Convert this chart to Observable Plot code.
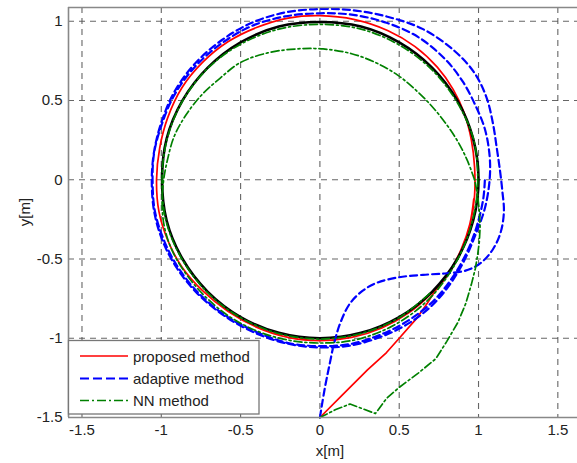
<!DOCTYPE html>
<html>
<head>
<meta charset="utf-8">
<script src="https://cdn.jsdelivr.net/npm/d3@7"></script>
<script src="https://cdn.jsdelivr.net/npm/@observablehq/plot@0.6"></script>
<style>
  html, body { margin: 0; padding: 0; background: #fff; }
  svg { display: block; }
</style>
</head>
<body>
<div id="chart"></div>
<script>
// ---- axes / ticks ----
const xDomain = [-1.585, 1.624];
const yDomain = [-1.5, 1.0865];
const xTicks = [-1.5, -1, -0.5, 0, 0.5, 1, 1.5];
const yTicks = [-1.5, -1, -0.5, 0, 0.5, 1];
const xLabel = "x[m]";
const yLabel = "y[m]";
const seriesNames = ["proposed method", "adaptive method", "NN method"];

// ---- desired (reference) circle ----
const reference = [
  [1,0],[0.966,0.259],[0.866,0.5],[0.707,0.707],[0.5,0.866],[0.259,0.966],
  [0,0.995],[-0.259,0.966],[-0.5,0.866],[-0.707,0.707],[-0.866,0.5],[-0.966,0.259],
  [-0.995,0],[-0.966,-0.259],[-0.866,-0.5],[-0.707,-0.707],[-0.5,-0.866],[-0.259,-0.966],
  [0,-1],[0.259,-0.966],[0.5,-0.866],[0.707,-0.707],[0.866,-0.5],[0.966,-0.259]
];

// ---- proposed method ----
const proposedStart = [
  [0,-1.5],[0.15,-1.35],[0.3,-1.2],[0.42,-1.09],[0.5,-1.0],[0.61,-0.875],[0.68,-0.775],[0.72,-0.71]
];
const proposedOrbit = [
  [0.72,-0.71],[0.82,-0.58],[0.9,-0.43],[0.95,-0.27],[0.975,-0.1],[0.975,0.08],[0.955,0.25],
  [0.91,0.42],[0.84,0.57],[0.74,0.71],[0.6,0.84],[0.43,0.94],[0.22,1.01],[0,1.035],
  [-0.2,1.02],[-0.4,0.96],[-0.58,0.87],[-0.74,0.74],[-0.87,0.58],[-0.96,0.39],[-1.01,0.2],
  [-1.03,0],[-1.015,-0.2],[-0.96,-0.38],[-0.87,-0.55],[-0.74,-0.7],[-0.58,-0.83],[-0.4,-0.93],
  [-0.2,-0.995],[0,-1.015],[0.2,-0.995],[0.39,-0.935],[0.56,-0.84],[0.7,-0.72],[0.81,-0.59],
  [0.89,-0.44],[0.945,-0.28],[0.97,-0.12]
];

// ---- adaptive method ----
const adaptivePath = [
  [0,-1.5],[0.03,-1.32],[0.06,-1.17],[0.09,-1.03],[0.13,-0.9],[0.19,-0.78],[0.27,-0.7],
  [0.36,-0.65],[0.5,-0.615],[0.65,-0.6],[0.8,-0.59],[0.93,-0.57],[1.02,-0.52],[1.09,-0.44],
  [1.14,-0.33],[1.16,-0.2],[1.15,-0.07],[1.135,0.06],[1.115,0.2],[1.09,0.36],[1.05,0.52],
  [0.97,0.68],[0.84,0.82],[0.65,0.95],[0.42,1.03],[0.2,1.07],[0,1.077],[-0.22,1.055],
  [-0.43,0.99],[-0.62,0.88],[-0.79,0.73],[-0.92,0.55],[-1.0,0.36],[-1.045,0.18],[-1.06,0],
  [-1.045,-0.2],[-0.99,-0.39],[-0.9,-0.56],[-0.77,-0.72],[-0.6,-0.86],[-0.4,-0.97],
  [-0.2,-1.035],[0,-1.058],[0.2,-1.045],[0.4,-0.985],[0.57,-0.9],[0.71,-0.79],[0.82,-0.66],
  [0.91,-0.51],[0.98,-0.35],[1.04,-0.18],[1.07,0],[1.07,0.15],[1.04,0.32],[0.98,0.47],
  [0.9,0.62],[0.79,0.76],[0.62,0.9],[0.42,0.99],[0.21,1.04],[0,1.05],[-0.22,1.03],
  [-0.43,0.97],[-0.62,0.86],[-0.79,0.71],[-0.92,0.53],[-1.0,0.34],[-1.045,0.17],[-1.055,0],
  [-1.04,-0.2],[-0.98,-0.39],[-0.89,-0.56],[-0.76,-0.72],[-0.59,-0.86],[-0.4,-0.96],
  [-0.2,-1.03],[0,-1.05],[0.2,-1.035],[0.4,-0.97],[0.57,-0.88],[0.72,-0.76],[0.84,-0.61],
  [0.93,-0.45],[0.99,-0.29],[1.03,-0.12],[1.04,0]
];

// ---- NN method ----
const nnStart = [
  [0,-1.5],[0.1,-1.45],[0.19,-1.415],[0.27,-1.445],[0.35,-1.475],[0.42,-1.38],[0.5,-1.31],
  [0.62,-1.22],[0.73,-1.13],[0.8,-1.02],[0.87,-0.9],[0.92,-0.78],[0.955,-0.66],[0.98,-0.56],
  [0.995,-0.47],[1.005,-0.39],[1.01,-0.3],[1.005,-0.2],[0.995,-0.1],[0.975,0]
];
const nnOrbit = [
  [0.975,0],[0.93,0.12],[0.87,0.24],[0.79,0.36],[0.7,0.47],[0.6,0.57],[0.49,0.66],[0.36,0.735],
  [0.2,0.795],[0.02,0.825],[-0.15,0.825],[-0.33,0.8],[-0.5,0.74],[-0.63,0.64],[-0.75,0.53],
  [-0.85,0.4],[-0.92,0.27],[-0.96,0.13],[-0.985,0],[-0.995,-0.15],[-0.98,-0.3],[-0.93,-0.45],
  [-0.84,-0.6],[-0.72,-0.74],[-0.56,-0.87],[-0.37,-0.965],[-0.18,-1.015],[0,-1.03],
  [0.2,-1.015],[0.39,-0.955],[0.56,-0.86],[0.71,-0.73],[0.83,-0.57],[0.92,-0.39],[0.975,-0.2],
  [0.995,0],[0.97,0.25],[0.87,0.48],[0.71,0.69],[0.5,0.85],[0.26,0.95],[0,0.98],[-0.26,0.95],
  [-0.5,0.855],[-0.71,0.7],[-0.87,0.49],[-0.965,0.25],[-0.995,0],[-0.97,-0.26],[-0.87,-0.5],
  [-0.71,-0.71],[-0.5,-0.87],[-0.26,-0.97],[0,-1.005],[0.26,-0.97],[0.5,-0.87],[0.7,-0.71]
];

// ---- styles ----
const colors = ["#ff0000", "#0000ff", "#008000"];
const dashes = [null, "7,4", "8,3,2,3"];
const widths = [1.7, 2.2, 1.7];
const font = "'Liberation Sans', Arial, Helvetica, sans-serif";

const W = 577, H = 463;
const mL = 68, mT = 7, mB = 46, mR = 0;

const lineOpts = (i, curve) => ({
  x: d => d[0], y: d => d[1], stroke: colors[i], strokeWidth: widths[i],
  strokeDasharray: dashes[i], curve
});

const svg = Plot.plot({
  width: W, height: H,
  marginLeft: mL, marginTop: mT, marginBottom: mB, marginRight: mR,
  style: { fontFamily: font, fontSize: "15px", color: "#222", background: "#fff", overflow: "visible" },
  x: { domain: xDomain, label: null },
  y: { domain: yDomain, label: null },
  marks: [
    Plot.gridX(xTicks, { stroke: "#555", strokeOpacity: 0.9, strokeDasharray: "6,5", strokeWidth: 1.1 }),
    Plot.gridY(yTicks, { stroke: "#555", strokeOpacity: 0.9, strokeDasharray: "6,5", strokeWidth: 1.1 }),
    Plot.axisX({ ticks: xTicks, tickSize: 0, tickPadding: 7, tickFormat: d => String(d), label: null }),
    Plot.axisY({ ticks: yTicks, tickSize: 0, tickPadding: 6, tickFormat: d => String(d), label: null }),
    Plot.line(proposedStart, lineOpts(0, "linear")),
    Plot.line(proposedOrbit, lineOpts(0, "catmull-rom")),
    Plot.line(reference, { x: d => d[0], y: d => d[1], stroke: "#000", strokeWidth: 2.6, curve: "catmull-rom-closed" }),
    Plot.line(adaptivePath, lineOpts(1, "catmull-rom")),
    Plot.line(nnStart, lineOpts(2, "linear")),
    Plot.line(nnOrbit, lineOpts(2, "catmull-rom")),
    Plot.ruleX([xDomain[0]], { stroke: "#888", strokeWidth: 1.6 }),
    Plot.ruleY([yDomain[0], yDomain[1]], { stroke: "#888", strokeWidth: 1.6 })
  ]
});

const root = d3.select(svg);
// axis titles
root.append("text").attr("x", 330).attr("y", 456).attr("text-anchor", "middle")
  .attr("font-family", font).attr("font-size", 15).attr("fill", "#222").text(xLabel);
root.append("text").attr("transform", "translate(30,212) rotate(-90)").attr("text-anchor", "middle")
  .attr("font-family", font).attr("font-size", 15).attr("fill", "#222").text(yLabel);

// legend
const lg = root.append("g").attr("text-anchor", "start");
lg.append("rect").attr("x", 68.5).attr("y", 340.5).attr("width", 190.5).attr("height", 73.5)
  .attr("fill", "#fff").attr("stroke", "#777").attr("stroke-width", 1.3);
const rowY = [356, 378.5, 400.5];
seriesNames.forEach((name, i) => {
  lg.append("line").attr("x1", 80).attr("x2", 128).attr("y1", rowY[i]).attr("y2", rowY[i])
    .attr("stroke", colors[i]).attr("stroke-width", widths[i])
    .attr("stroke-dasharray", dashes[i] === null ? null : (i === 1 ? "9,4" : "9,3,2,3"));
  lg.append("text").attr("x", 133).attr("y", rowY[i] + 5.5).attr("text-anchor", "start")
    .attr("font-family", font).attr("font-size", 15).attr("fill", "#222").text(name);
});

document.getElementById("chart").appendChild(svg);
</script>
</body>
</html>
